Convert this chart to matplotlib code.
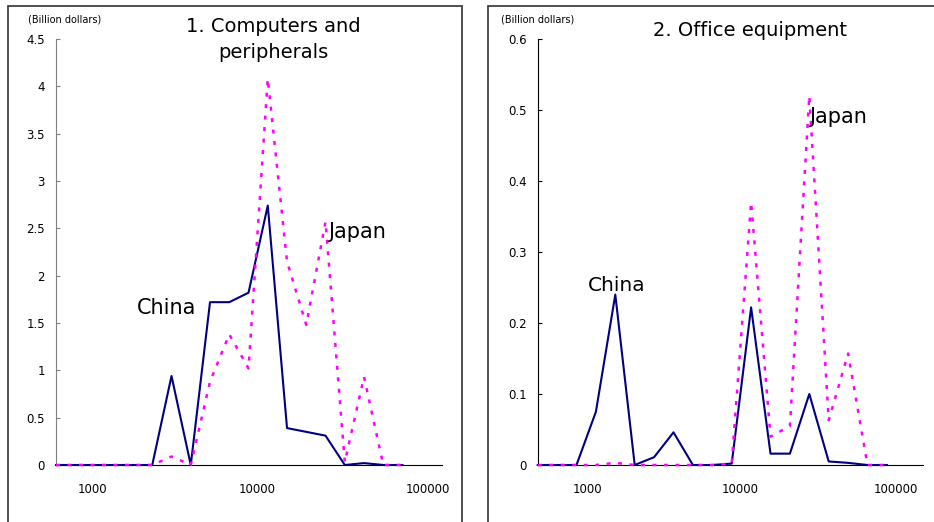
import matplotlib.pyplot as plt
from matplotlib.patches import Rectangle

# 19 income classes along the (log) income axis
classes = list(range(19))

# 1. Computers and peripherals (billion dollars)
china_comp = [0, 0, 0, 0, 0, 0, 0.94, 0, 1.72, 1.72, 1.82, 2.74, 0.39, 0.35, 0.31, 0, 0.02, 0, 0]
japan_comp = [0, 0, 0, 0, 0, 0, 0.09, 0, 0.88, 1.38, 1.02, 4.08, 2.15, 1.48, 2.57, 0.03, 0.93, 0, 0]

# 2. Office equipment (billion dollars)
china_office = [0, 0, 0, 0.075, 0.24, 0, 0.011, 0.046, 0, 0, 0.002, 0.222, 0.016, 0.016, 0.1, 0.005, 0.003, 0, 0]
japan_office = [0, 0, 0, 0, 0.003, 0, 0, 0, 0, 0, 0.002, 0.37, 0.04, 0.055, 0.52, 0.063, 0.157, 0, 0]

xlabels = ['1000', '10000', '100000']
yticks_comp = [0, 0.5, 1, 1.5, 2, 2.5, 3, 3.5, 4, 4.5]
ylabels_comp = ['0', '0.5', '1', '1.5', '2', '2.5', '3', '3.5', '4', '4.5']
yticks_office = [0, 0.1, 0.2, 0.3, 0.4, 0.5, 0.6]
ylabels_office = ['0', '0.1', '0.2', '0.3', '0.4', '0.5', '0.6']

navy = '#000080'
magenta = '#ff00ff'

plt.rcParams['font.family'] = 'DejaVu Sans'
fig = plt.figure(figsize=(9.34, 5.22), dpi=100)
W, H = 934, 522

# panel frames
fig.patches.append(Rectangle((7.5 / W, -0.05), 454 / W, 1.05 - 5.5 / H, transform=fig.transFigure,
                             fill=False, edgecolor='#404040', linewidth=1.3))
fig.patches.append(Rectangle((488.5 / W, -0.05), 460 / W, 1.05 - 5.5 / H, transform=fig.transFigure,
                             fill=False, edgecolor='#404040', linewidth=1.3))


def panel(rect, china, japan, xmax, xpos, yticks, ylabels, ymax, ycolor):
    ax = fig.add_axes(rect)
    ax.plot(classes, china, color=navy, linewidth=1.5, clip_on=False, zorder=3)
    ax.plot(classes, japan, color=magenta, linewidth=1.8, linestyle=(0, (1.6, 3.0)),
            clip_on=False, zorder=4)
    ax.set_xlim(0, xmax)
    ax.set_ylim(0, ymax)
    ax.set_xticks(xpos, xlabels)
    ax.set_yticks(yticks, ylabels)
    ax.tick_params(axis='x', length=0, pad=13, labelsize=8.5)
    ax.tick_params(axis='y', direction='in', length=3, pad=8, labelsize=8.5, color=ycolor)
    ax.spines['top'].set_visible(False)
    ax.spines['right'].set_visible(False)
    ax.spines['left'].set_color(ycolor)
    ax.spines['bottom'].set_color('black')
    return ax


ax1 = panel([56 / W, 1 - 465 / H, 386 / W, 426 / H], china_comp, japan_comp, 20.05,
            [1.89, 10.44, 19.34], yticks_comp, ylabels_comp, 4.5, '#808080')
ax2 = panel([537.7 / W, 1 - 465 / H, 385.3 / W, 426 / H], china_office, japan_office, 19.86,
            [2.56, 10.43, 18.47], yticks_office, ylabels_office, 0.6, 'black')

# unit labels
fig.text(27.5 / W, 1 - 19.5 / H, '(Billion dollars)', fontsize=7, va='center', ha='left')
fig.text(501.5 / W, 1 - 19.5 / H, '(Billion dollars)', fontsize=7, va='center', ha='left')

# titles
fig.text(273 / W, 1 - 32.3 / H, '1. Computers and', fontsize=14, ha='center', va='baseline')
fig.text(273 / W, 1 - 58 / H, 'peripherals', fontsize=14, ha='center', va='baseline')
fig.text(750 / W, 1 - 36 / H, '2. Office equipment', fontsize=14, ha='center', va='baseline')

# series labels
fig.text(136.7 / W, 1 - 314.3 / H, 'China', fontsize=15, ha='left', va='baseline')
fig.text(328 / W, 1 - 238.3 / H, 'Japan', fontsize=15, ha='left', va='baseline')
fig.text(588.3 / W, 1 - 291 / H, 'China', fontsize=14.5, ha='left', va='baseline')
fig.text(809.3 / W, 1 - 123.3 / H, 'Japan', fontsize=15, ha='left', va='baseline')

fig.savefig('out.png', dpi=100)
